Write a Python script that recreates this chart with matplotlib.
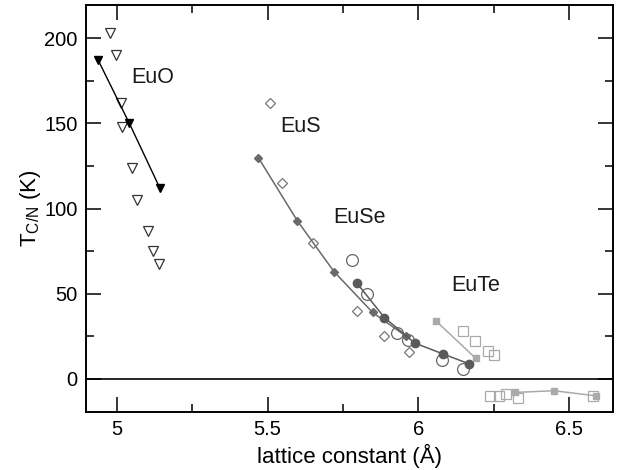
import numpy as np
import matplotlib.pyplot as plt
from matplotlib.ticker import MultipleLocator

plt.rcParams['font.family'] = ['Liberation Sans', 'DejaVu Sans']

# EuO
euo_open_x = [4.978, 4.997, 5.013, 5.019, 5.050, 5.068, 5.104, 5.121, 5.140]
euo_open_y = [203, 190, 162, 148, 124, 105, 87, 75, 67.5]
euo_fill_x = [4.939, 5.042, 5.143]
euo_fill_y = [187, 150, 112]

# EuS
eus_open_x = [5.508, 5.547, 5.649, 5.797, 5.887, 5.969]
eus_open_y = [162, 115, 80, 40, 25, 15.5]
eus_fill_x = [5.469, 5.598, 5.720, 5.848, 5.959]
eus_fill_y = [130, 93, 63, 39, 25]

# EuSe
euse_open_x = [5.779, 5.828, 5.928, 5.966, 6.077, 6.148]
euse_open_y = [70, 50, 27, 23, 11, 5.5]
euse_fill_x = [5.797, 5.887, 5.988, 6.080, 6.168]
euse_fill_y = [56, 36, 21, 14.7, 8.8]

# EuTe (FM branch, AFM branch below zero)
eute_open_x = [6.148, 6.189, 6.229, 6.250]
eute_open_y = [28, 22, 16.5, 14]
eute_fill_x = [6.058, 6.190]
eute_fill_y = [34, 12]
eute_neg_open_x = [6.237, 6.267, 6.289, 6.329, 6.579]
eute_neg_open_y = [-10, -10, -9, -11, -10]
eute_neg_fill_x = [6.320, 6.449, 6.588]
eute_neg_fill_y = [-8, -7, -10]

labels = ['EuO', 'EuS', 'EuSe', 'EuTe']
label_x = [5.118, 5.61, 5.806, 6.190]
label_y = [177, 148, 95, 55]

fig = plt.figure(figsize=(6.23, 4.70), dpi=100)
ax = fig.add_axes([0.138, 0.1234, 0.846, 0.8656])

ax.axhline(0, color='black', lw=1.2, zorder=1)

# EuO
ax.plot(euo_open_x, euo_open_y, 'v', ls='none', ms=7.5, mfc='white', mec='#333333', mew=0.9)
ax.plot(euo_fill_x, euo_fill_y, 'v-', color='black', ms=6, lw=1)

# EuS
ax.plot(eus_open_x, eus_open_y, 'D', ls='none', ms=5.2, mfc='none', mec='#777777', mew=0.9)
ax.plot(eus_fill_x, eus_fill_y, 'D-', color='#6a6a6a', ms=3.6, lw=1.1)

# EuSe
ax.plot(euse_open_x, euse_open_y, 'o', ls='none', ms=8.5, mfc='none', mec='#666666', mew=0.9)
ax.plot(euse_fill_x, euse_fill_y, 'o-', color='#5a5a5a', ms=6, lw=1.1)

# EuTe
ax.plot(eute_open_x, eute_open_y, 's', ls='none', ms=7.5, mfc='none', mec='#aaaaaa', mew=0.9)
ax.plot(eute_fill_x, eute_fill_y, 's-', color='#aaaaaa', ms=5, lw=1.1)
ax.plot(eute_neg_open_x, eute_neg_open_y, 's', ls='none', ms=7.5, mfc='none', mec='#aaaaaa', mew=0.9)
ax.plot(eute_neg_fill_x, eute_neg_fill_y, 's-', color='#aaaaaa', ms=5, lw=1.1)

for t, x, y in zip(labels, label_x, label_y):
    ax.text(x, y, t, fontsize=15.5, ha='center', va='center', color='#1a1a1a')

ax.set_xlim(4.898, 6.645)
ax.set_ylim(-19.5, 219.5)
ax.xaxis.set_major_locator(MultipleLocator(0.5))
ax.xaxis.set_minor_locator(MultipleLocator(0.25))
ax.yaxis.set_major_locator(MultipleLocator(50))
ax.yaxis.set_minor_locator(MultipleLocator(25))
ax.set_xticks([5, 5.5, 6, 6.5])
ax.set_xticklabels(['5', '5.5', '6', '6.5'])
ax.tick_params(which='both', direction='in', top=True, right=True, labelsize=14.5, width=1.1, pad=6)
ax.tick_params(which='major', length=11)
ax.tick_params(which='minor', length=5.5)
for s in ax.spines.values():
    s.set_linewidth(1.4)

ax.set_xlabel('lattice constant (Å)', fontsize=16, labelpad=3)
ax.set_ylabel(r'T$_{\mathregular{C/N}}$ (K)', fontsize=16, labelpad=1)

fig.savefig('out.png', dpi=100)
